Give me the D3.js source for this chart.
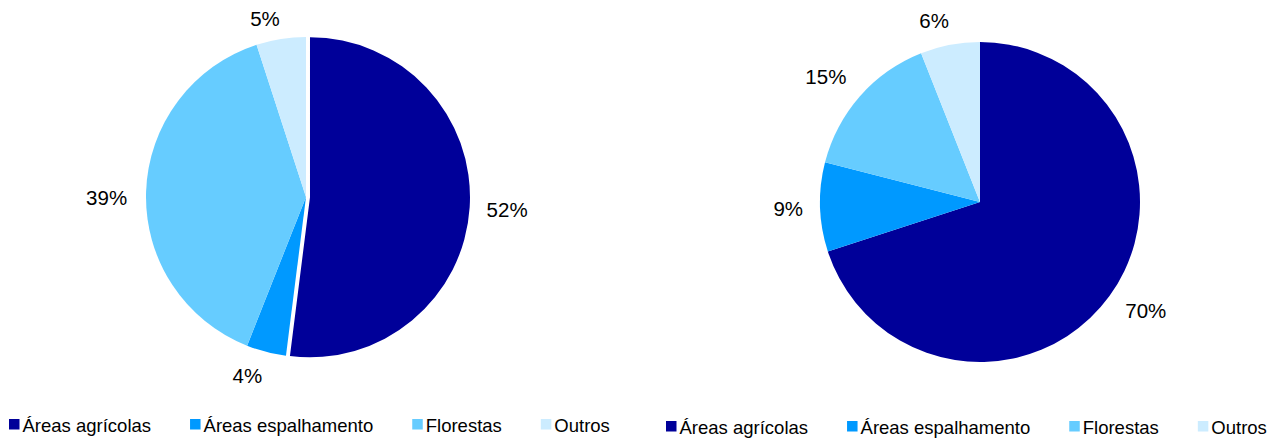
<!DOCTYPE html>
<html>
<head>
<meta charset="utf-8">
<script src="https://cdn.jsdelivr.net/npm/d3@7"></script>
<style>
  html, body { margin: 0; padding: 0; background: #ffffff; }
  svg { display: block; }
</style>
</head>
<body>
<svg id="chart" width="1273" height="438"></svg>
<script>
// ---- data ----
const categories = ["Áreas agrícolas", "Áreas espalhamento", "Florestas", "Outros"];
const valuesLeft = [52, 4, 39, 5];
const valuesRight = [70, 9, 15, 6];
const labelsLeft = ["52%", "4%", "39%", "5%"];
const labelsRight = ["70%", "9%", "15%", "6%"];
const colors = ["#000099", "#0099FF", "#66CCFF", "#CCECFF"];

// ---- layout ----
const svg = d3.select("#chart");
const FONT = "'Liberation Sans', Arial, Helvetica, sans-serif";
const labelSize = 20.5;
const legendSize = 18.5;

const pies = [
  { values: valuesLeft, labels: labelsLeft, cx: 306, cy: 197, r: 160, explode: [4, 0, 0, 0],
    nudge: [[0, 1], [-11, 0], [-2, 6], [-11, 4]],
    legendX: 9, legendY: 419 },
  { values: valuesRight, labels: labelsRight, cx: 980, cy: 202, r: 160, explode: [0, 0, 0, 0],
    nudge: [[6, 0], [0, 1], [-6, -3], [-10, 0]],
    legendX: 666, legendY: 421 }
];

const pieGen = d3.pie().sort(null).value(d => d);

pies.forEach(p => {
  const g = svg.append("g").attr("transform", `translate(${p.cx},${p.cy})`);
  const arcs = pieGen(p.values);
  const arc = d3.arc().innerRadius(0).outerRadius(p.r);

  g.selectAll("path.slice")
    .data(arcs)
    .join("path")
    .attr("class", "slice")
    .attr("d", arc)
    .attr("fill", (d, i) => colors[i])
    .attr("transform", (d, i) => {
      const a = (d.startAngle + d.endAngle) / 2;
      const e = p.explode[i];
      return `translate(${Math.sin(a) * e},${-Math.cos(a) * e})`;
    });

  // labels (outside end)
  const gap = 17;
  const capH = labelSize * 0.716;
  arcs.forEach((d, i) => {
    const a = (d.startAngle + d.endAngle) / 2;
    const dx = Math.sin(a), dy = -Math.cos(a);
    const t = g.append("text")
      .attr("font-family", FONT)
      .attr("font-size", labelSize)
      .attr("fill", "#000")
      .attr("text-anchor", "middle")
      .text(p.labels[i]);
    const w = t.node().getComputedTextLength();
    const rr = p.r + p.explode[i] + gap;
    const x = dx * rr + dx * w / 2 + p.nudge[i][0];
    const y = dy * rr + dy * capH / 2 + p.nudge[i][1];
    t.attr("x", x).attr("y", y + capH / 2);
  });

  // legend
  const lg = svg.append("g").attr("transform", `translate(${p.legendX},${p.legendY})`);
  let x = 0;
  categories.forEach((c, i) => {
    lg.append("rect")
      .attr("x", x).attr("y", 0)
      .attr("width", 10.5).attr("height", 10.5)
      .attr("fill", colors[i]);
    const t = lg.append("text")
      .attr("x", x + 13.5).attr("y", 12.7)
      .attr("font-family", FONT)
      .attr("font-size", legendSize)
      .attr("fill", "#000")
      .text(c);
    const w = t.node().getComputedTextLength();
    x = x + 13.5 + w + 39;
  });
});
</script>
</body>
</html>
